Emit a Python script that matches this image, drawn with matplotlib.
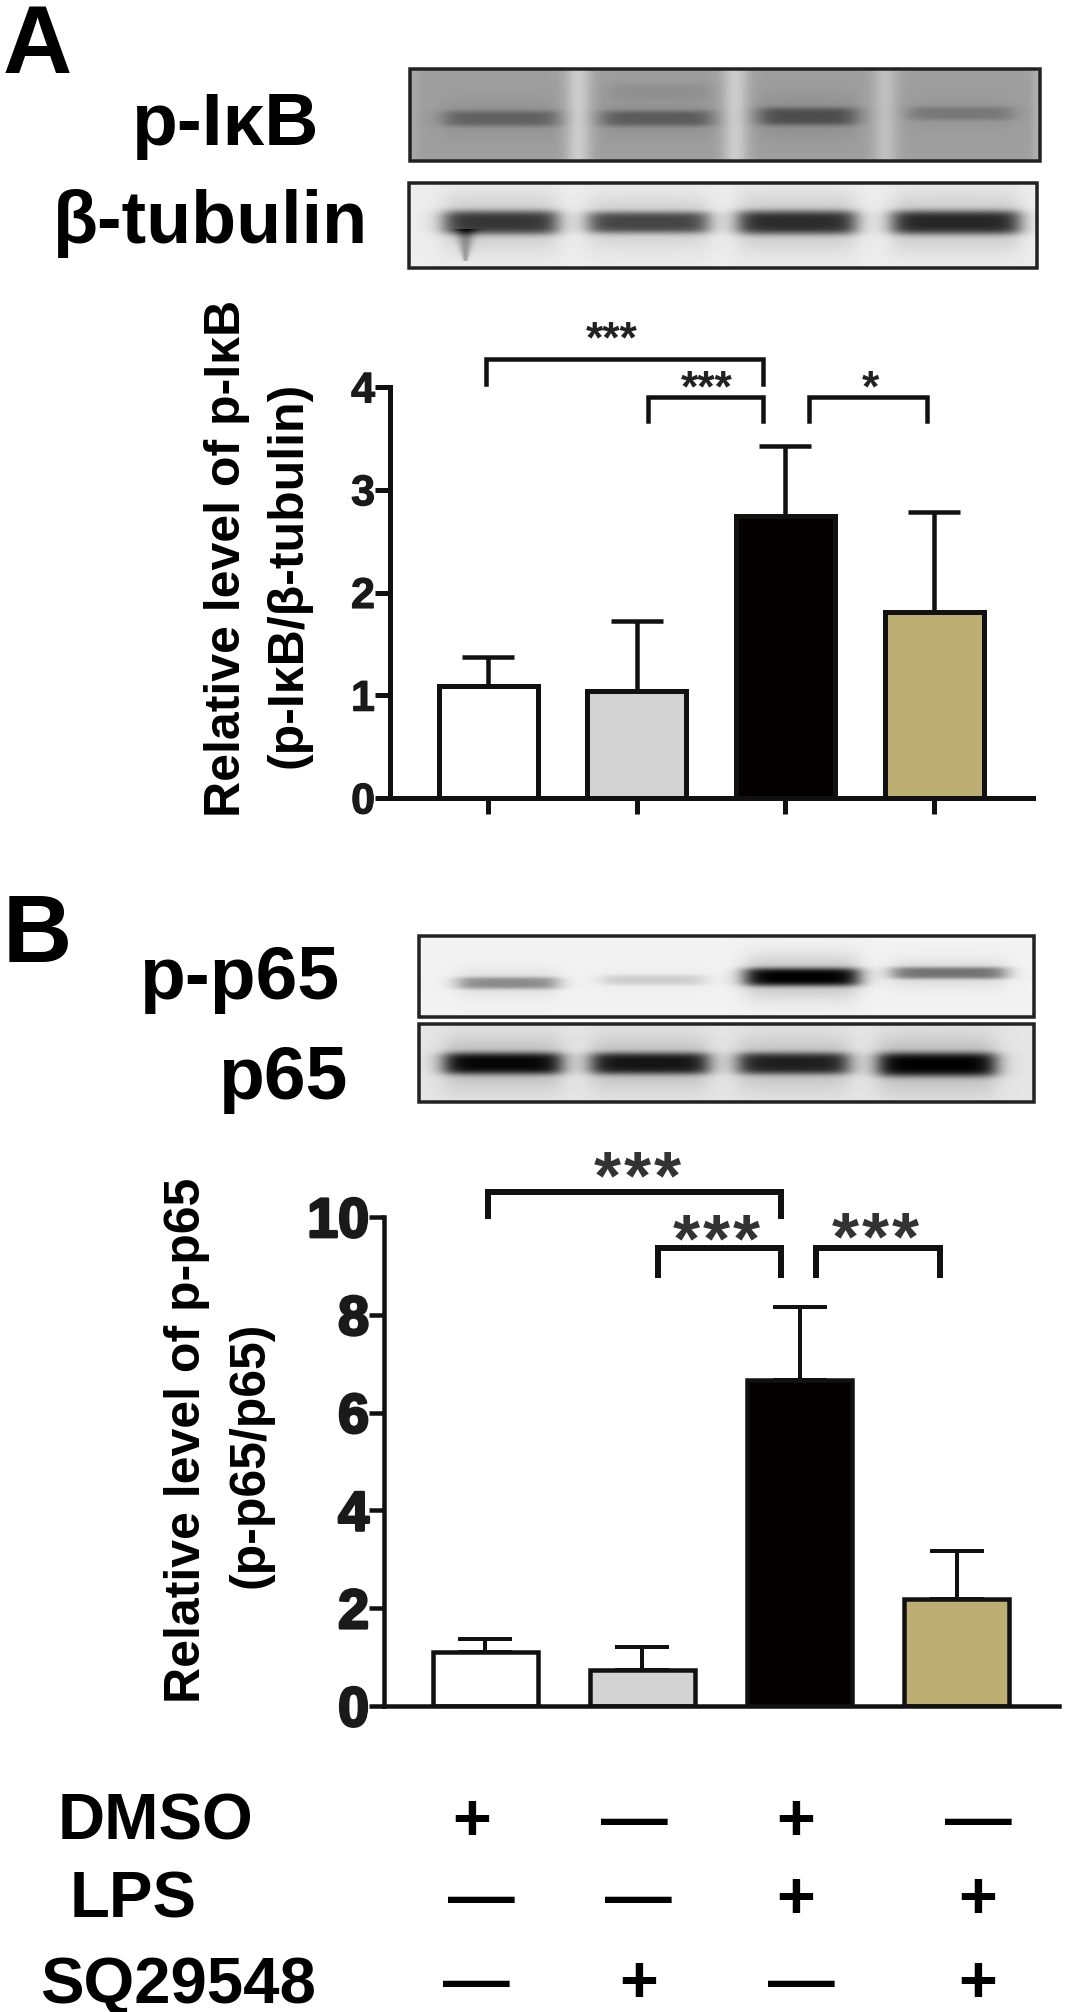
import numpy as np
import matplotlib
matplotlib.use("Agg")
import matplotlib.pyplot as plt
import matplotlib.patheffects as pe
from matplotlib.patches import Rectangle

plt.rcParams['font.family'] = ['Liberation Sans', 'DejaVu Sans']
plt.rcParams['font.weight'] = 'bold'

W, H = 1072, 2012

# bar data
colors = ['white', '#d3d3d3', '#040000', '#bdae74']
a_values = [1.09, 1.04, 2.74, 1.81]
a_err_tops = [1.37, 1.72, 3.43, 2.78]
a_ticks = [0, 1, 2, 3, 4]
b_values = [1.10, 0.73, 6.66, 2.19]
b_err_tops = [1.38, 1.20, 8.16, 3.17]
b_ticks = [0, 2, 4, 6, 8, 10]

# brackets: left, right (bar units), top, leg end (y units)
a_brackets = [(-0.013, 1.849, 4.27, 4.03), (1.076, 1.846, 3.90, 3.67), (2.159, 2.952, 3.90, 3.67)]
b_brackets = [(0.019, 1.882, 10.51, 10.02), (1.10, 1.882, 9.37, 8.82), (2.104, 2.893, 9.37, 8.82)]

# treatment table
row_names = ['DMSO', 'LPS', 'SQ29548']
dmso = ['+', '—', '+', '—']
lps = ['—', '—', '+', '+']
sq = ['—', '+', '—', '+']


def px(v):
    return v * 0.72


def bar_panel(fig, rect, c0, step, width, values, tops, ticks, brackets, lw, br_lw, cap, tick_fs, thick, xticks):
    left, right, top, bottom = rect
    ax = fig.add_axes([left / W, 1 - bottom / H, (right - left) / W, (bottom - top) / H])
    ax.patch.set_alpha(0)
    x = np.arange(4)
    err = np.array(tops) - np.array(values)
    ax.errorbar(x, values, yerr=[np.zeros(4), err], fmt='none', ecolor='#111111',
                elinewidth=px(lw - 0.5), capsize=px(cap), capthick=px(lw - 0.5), zorder=1)
    ax.bar(x, values, width=width / step, color=colors, edgecolor='#111111', linewidth=px(lw), zorder=2)
    ax.set_xlim((left - c0) / step, (right - c0) / step)
    ax.set_ylim(0, ticks[-1])
    ax.set_yticks(ticks)
    for s in ['top', 'right']:
        ax.spines[s].set_visible(False)
    for s in ['left', 'bottom']:
        ax.spines[s].set_linewidth(px(lw))
        ax.spines[s].set_color('#111111')
    ax.tick_params(axis='y', length=px(15), width=px(lw), pad=0, labelsize=tick_fs, color='#111111')
    for lab in ax.get_yticklabels():
        lab.set_color('#1a1a1a')
        lab.set_path_effects([pe.withStroke(linewidth=thick, foreground='#1a1a1a')])
    if xticks:
        ax.set_xticks(x)
        ax.set_xticklabels([])
        ax.tick_params(axis='x', length=px(16), width=px(lw), color='#111111')
    else:
        ax.set_xticks([])
    for x0, x1, t, b in brackets:
        ax.plot([x0, x0, x1, x1], [b, t, t, b], color='#111111', lw=px(br_lw), clip_on=False,
                solid_joinstyle='miter', zorder=3)
    return ax


def blot(bg, bands, gaps=(), tail=None, h=90, w=630):
    # bands: x0, x1, y centre, y half height, darkness in blot pixels
    yy, xx = np.mgrid[0:h, 0:w]
    img = np.full((h, w), bg, dtype=float)
    for gx, gw, amt in gaps:
        img += amt * np.exp(-((xx - gx) / gw) ** 2)
    for x0, x1, yc, sy, amt in bands:
        edge = 0.5 * (np.tanh((xx - x0) / 12) - np.tanh((xx - x1) / 12))
        d = yy - yc
        shape = 0.78 * np.exp(-(d / sy) ** 4) + 0.22 * np.exp(-(d / (2.3 * sy)) ** 2)
        img -= amt * edge * shape
    if tail is not None:
        tx, y0, y1, amt = tail
        wid = 9 * np.clip((y1 - yy) / (y1 - y0), 0, 1) + 2
        img -= amt * np.exp(-((xx - tx) / wid) ** 2) * ((yy > y0) & (yy < y1))
    return np.clip(img, 0, 1)


def put_blot(ov, img, x0, x1, y0, y1):
    ov.imshow(img, cmap='gray', vmin=0, vmax=1, extent=(x0, x1, y1, y0), aspect='auto',
              interpolation='bilinear', zorder=1)
    ov.add_patch(Rectangle((x0, y0), x1 - x0, y1 - y0, fill=False, edgecolor='#222222', lw=px(3.5), zorder=2))


fig = plt.figure(figsize=(W / 100, H / 100), dpi=100)
ov = fig.add_axes([0, 0, 1, 1])
ov.set_axis_off()

# western blot panels
img = blot(0.62, [(34, 147, 49, 8, 0.24), (192, 301, 49, 8, 0.26), (349, 445, 47, 9, 0.32), (499, 602, 44, 7, 0.15),
                  (200, 300, 22, 8, 0.05)],
           gaps=[(168, 13, 0.18), (325, 13, 0.18), (475, 13, 0.13), (0, 8, 0.05), (630, 8, 0.08)], h=92)
put_blot(ov, img, 410, 1040, 69, 161)
img = blot(0.93, [(35, 148, 39, 12, 0.72), (179, 299, 39, 11, 0.66), (329, 446, 39, 12, 0.76), (483, 610, 39, 12, 0.78)],
           tail=(56, 45, 78, 0.28), h=85, w=628)
put_blot(ov, img, 409, 1037, 183, 268)
img = blot(0.95, [(39, 138, 47, 6, 0.40), (183, 285, 44, 5, 0.14), (326, 439, 41, 9, 0.95), (473, 586, 37, 6, 0.50)],
           h=81, w=615)
put_blot(ov, img, 419, 1034, 936, 1017)
img = blot(0.90, [(25, 142, 39, 11, 0.88), (172, 289, 39, 11, 0.82), (319, 429, 39, 11, 0.78), (459, 576, 40, 12, 0.90)],
           h=78, w=615)
put_blot(ov, img, 419, 1034, 1024, 1102)

# bar panels
bar_panel(fig, (390, 1033, 387, 798), 488, 148.7, 99, a_values, a_err_tops, a_ticks, a_brackets, 5, 4.5, 26, 31, 0.8, True)
bar_panel(fig, (384, 1059, 1217, 1706), 485, 157.3, 105, b_values, b_err_tops, b_ticks, b_brackets, 4.5, 6, 27, 40, 2.0, False)

ov.set_xlim(0, W)
ov.set_ylim(H, 0)
ov.set_zorder(5)
ov.patch.set_alpha(0)

# panel letters and blot labels
ov.text(3, 73, 'A', fontsize=69, ha='left', va='baseline')
ov.text(3, 962, 'B', fontsize=69, ha='left', va='baseline')
ov.text(131, 145, 'p-Iκ' + 'B', fontsize=54, ha='left', va='baseline')
ov.text(53, 243, 'β-tubulin', fontsize=53, ha='left', va='baseline')
ov.text(139, 999, 'p-p65', fontsize=54, ha='left', va='baseline')
ov.text(218, 1099, 'p65', fontsize=54, ha='left', va='baseline')

# axis titles
ov.text(227, 558, 'Relative level of p-Iκ' + 'B', fontsize=36, rotation=90, ha='center', va='center')
ov.text(289, 575, '(p-Iκ' + 'B/β-tubulin)', fontsize=36, rotation=90, ha='center', va='center')
ov.text(187, 1440, 'Relative level of p-p65', fontsize=36, rotation=90, ha='center', va='center')
ov.text(250, 1455, '(p-p65/p65)', fontsize=36, rotation=90, ha='center', va='center')

# stars
for x, y, s in [(612, 341, '***'), (707, 390, '***'), (870, 390, '*')]:
    ov.text(x, y, s, fontsize=32, ha='center', va='center', color='#222222')
for xc, y in [(637, 1180), (716, 1243), (875, 1241)]:
    for off in (-30, 0, 30):
        ov.text(xc + off, y, '*', fontsize=50, ha='center', va='center', color='#333333')

# treatment table
ov.text(58, 1840, row_names[0], fontsize=47, ha='left', va='baseline')
ov.text(70, 1918, row_names[1], fontsize=47, ha='left', va='baseline')
ov.text(40, 2003, row_names[2], fontsize=47, ha='left', va='baseline')
rows = [(dmso, [472, 634, 796, 978], 1840), (lps, [481, 638, 796, 978], 1918), (sq, [476, 639, 801, 978], 2002)]
for marks, xs, base in rows:
    for m, x in zip(marks, xs):
        ov.text(x, base, m, fontsize=48, ha='center', va='baseline')

fig.savefig('out.png', dpi=100)
